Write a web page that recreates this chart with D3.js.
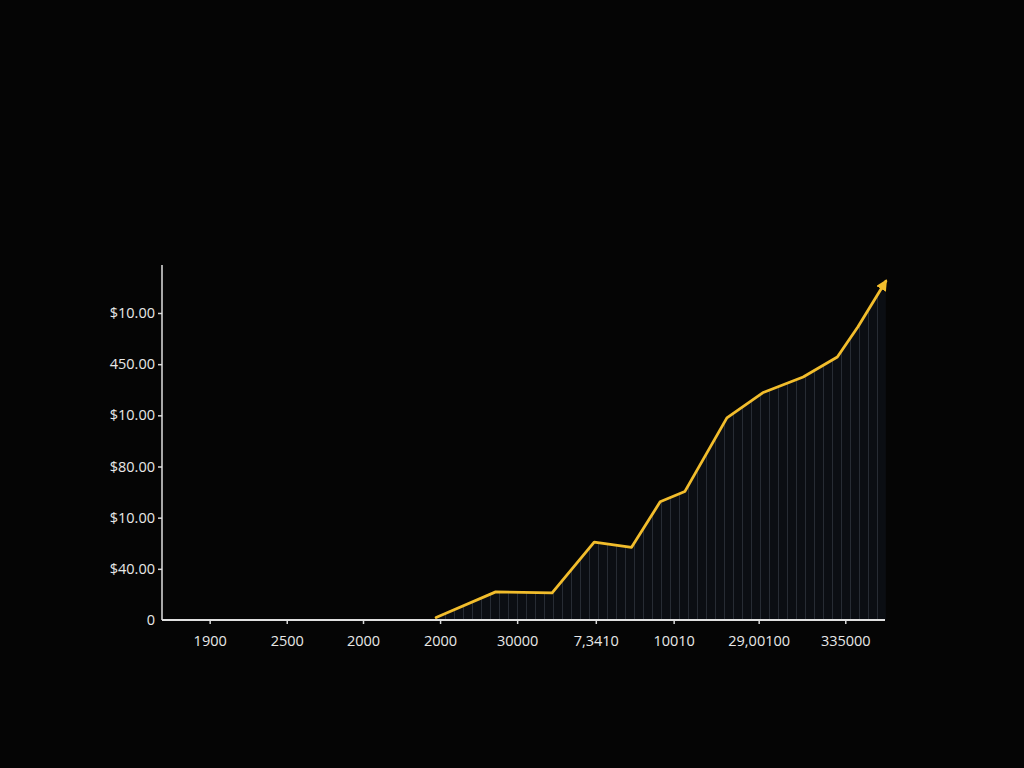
<!DOCTYPE html>
<html>
<head>
<meta charset="utf-8">
<script src="https://cdn.jsdelivr.net/npm/d3@7"></script>
<style>
  html, body { margin: 0; padding: 0; background: #050505; }
  svg { display: block; }
  .tick text { font-family: 'Open Sans', sans-serif; font-size: 14.5px; fill: #e8e8e8; }
</style>
</head>
<body>
<svg id="chart" width="1024" height="768"></svg>
<script>
// Category labels along the bottom axis, and where each one sits on the axis
const xLabels = ['1900', '2500', '2000', '2000', '30000', '7,3410', '10010', '29,00100', '335000']
const xTickPos = [0, 0.97, 1.93, 2.90, 3.87, 4.86, 5.84, 6.91, 8.0]

// Y tick values and the labels printed next to them
const yTicks = [0, 1, 2, 3, 4, 5, 6]
const yLabels = ['0', '$40.00', '$10.00', '$80.00', '$10.00', '450.00', '$10.00']

// Line series: position along the category axis and value
const seriesX = [2.85, 3.60, 4.31, 4.84, 5.31, 5.67, 5.98, 6.51, 6.96, 7.47, 7.90, 8.16, 8.51]
const seriesY = [0.05, 0.55, 0.53, 1.52, 1.42, 2.31, 2.51, 3.95, 4.44, 4.75, 5.14, 5.73, 6.62]

const svg = d3.select('#chart')

// Scales
const x = d3.scaleLinear().domain([-0.6, 8.5]).range([162, 885])
const y = d3.scaleLinear().domain([0, 6]).range([620, 313])

const data = seriesX.map((v, i) => ({ x: v, y: seriesY[i] }))

// Defs: stripe pattern for the area and the arrow head
const defs = svg.append('defs')

const pattern = defs.append('pattern')
  .attr('id', 'stripes')
  .attr('patternUnits', 'userSpaceOnUse')
  .attr('width', 9)
  .attr('height', 10)
pattern.append('rect')
  .attr('width', 9)
  .attr('height', 10)
  .attr('fill', '#0b0e13')
pattern.append('rect')
  .attr('x', 4)
  .attr('width', 1)
  .attr('height', 10)
  .attr('fill', '#272c34')

defs.append('marker')
  .attr('id', 'arrow')
  .attr('viewBox', '0 0 10 10')
  .attr('refX', 8)
  .attr('refY', 5)
  .attr('markerWidth', 4)
  .attr('markerHeight', 4)
  .attr('markerUnits', 'strokeWidth')
  .attr('orient', 'auto')
  .append('path')
  .attr('d', 'M0,0 L10,5 L0,10 Z')
  .attr('fill', '#f2bd2c')

// Area under the line
const area = d3.area()
  .x(d => x(d.x))
  .y0(y(0))
  .y1(d => y(d.y))

svg.append('path')
  .datum(data)
  .attr('d', area)
  .attr('fill', 'url(#stripes)')

// Y axis
const yAxis = svg.append('g')
  .attr('transform', `translate(${x(-0.6)},0)`)
  .call(d3.axisLeft(y)
    .tickValues(yTicks)
    .tickSize(4)
    .tickPadding(3)
    .tickFormat((d, i) => yLabels[i]))
yAxis.select('.domain').remove()
yAxis.selectAll('.tick line').attr('stroke', '#d8d8d8').attr('stroke-width', 1.5)
yAxis.selectAll('.tick').filter(d => d === 0).select('line').remove()

svg.append('line')
  .attr('x1', x(-0.6)).attr('x2', x(-0.6))
  .attr('y1', 265).attr('y2', y(0))
  .attr('stroke', '#e0e0e0')
  .attr('stroke-width', 1.5)

// X axis
const xAxis = svg.append('g')
  .attr('transform', `translate(0,${y(0)})`)
  .call(d3.axisBottom(x)
    .tickValues(xTickPos)
    .tickSize(4)
    .tickPadding(12)
    .tickFormat((d, i) => xLabels[i]))
xAxis.select('.domain').remove()
xAxis.selectAll('.tick line').attr('stroke', '#d8d8d8').attr('stroke-width', 1.5)

svg.append('line')
  .attr('x1', x(-0.6)).attr('x2', x(8.5))
  .attr('y1', y(0)).attr('y2', y(0))
  .attr('stroke', '#e0e0e0')
  .attr('stroke-width', 2)

// The line itself with the arrow at the end
const line = d3.line()
  .x(d => x(d.x))
  .y(d => y(d.y))

svg.append('path')
  .datum(data)
  .attr('d', line)
  .attr('fill', 'none')
  .attr('stroke', '#f2bd2c')
  .attr('stroke-width', 2.8)
  .attr('stroke-linejoin', 'round')
  .attr('stroke-linecap', 'round')
  .attr('marker-end', 'url(#arrow)')
</script>
</body>
</html>
